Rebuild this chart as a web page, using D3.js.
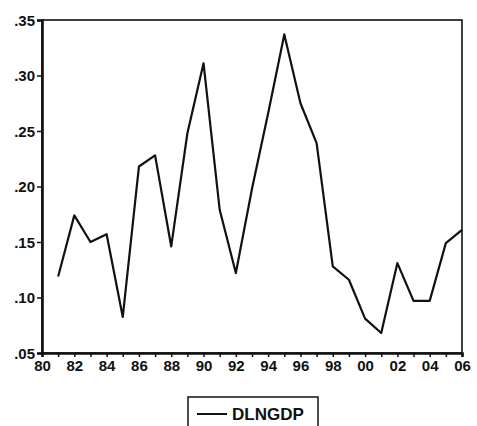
<!DOCTYPE html>
<html>
<head>
<meta charset="utf-8">
<script src="https://cdn.jsdelivr.net/npm/d3@7"></script>
<style>
  body { margin: 0; background: #fff; }
  svg { display: block; }
  text { font-family: "Liberation Sans", Arial, sans-serif; font-weight: bold; fill: #111; }
</style>
</head>
<body>
<div id="chart"></div>
<script>
// DLNGDP, annual, 1981-2006
const years = d3.range(1981, 2007);
const dlngdp = [0.119, 0.174, 0.150, 0.157, 0.0825, 0.218, 0.228, 0.146, 0.248, 0.311,
                0.179, 0.122, 0.198, 0.266, 0.337, 0.275, 0.239, 0.128, 0.116, 0.081,
                0.068, 0.131, 0.097, 0.097, 0.149, 0.161];
const yTicks = [0.05, 0.10, 0.15, 0.20, 0.25, 0.30, 0.35];
const xLabelYears = d3.range(1980, 2007, 2);
const seriesName = "DLNGDP";

const width = 477, height = 426;
const margin = { top: 20, right: 15, bottom: 73, left: 42 };

const svg = d3.select("#chart").append("svg")
    .attr("width", width)
    .attr("height", height);

const x = d3.scaleLinear().domain([1980, 2006]).range([margin.left, width - margin.right]);
const y = d3.scaleLinear().domain([0.05, 0.35]).range([height - margin.bottom, margin.top]);

// frame
svg.append("rect")
    .attr("x", x(1980)).attr("y", y(0.35))
    .attr("width", x(2006) - x(1980)).attr("height", y(0.05) - y(0.35))
    .attr("fill", "none").attr("stroke", "#111").attr("stroke-width", 1.6);

// y axis
const yAxis = d3.axisLeft(y)
    .tickValues(yTicks)
    .tickSize(5)
    .tickPadding(2)
    .tickFormat((d) => d3.format(".2f")(d).replace(/^0/, ""));
const gy = svg.append("g").attr("transform", `translate(${margin.left},0)`).call(yAxis);
gy.select(".domain").attr("stroke", "#111").attr("stroke-width", 2.6);
gy.selectAll(".tick line").attr("stroke", "#111").attr("stroke-width", 1.5);
gy.selectAll("text").style("font-size", "15px").attr("dy", "0.35em");

// x axis: ticks every year, labels every second year
const xAxis = d3.axisBottom(x)
    .tickValues(d3.range(1980, 2007))
    .tickSize(4)
    .tickPadding(3)
    .tickFormat((d) => (xLabelYears.includes(d) ? String(d).slice(2) : ""));
const gx = svg.append("g").attr("transform", `translate(0,${height - margin.bottom})`).call(xAxis);
gx.select(".domain").attr("stroke", "#111").attr("stroke-width", 2.6);
gx.selectAll(".tick line").attr("stroke", "#111").attr("stroke-width", 1.5);
gx.selectAll("text").style("font-size", "15px");

// series line
const line = d3.line()
    .x((d, i) => x(years[i]))
    .y((d) => y(d));

svg.append("path")
    .datum(dlngdp)
    .attr("fill", "none")
    .attr("stroke", "#111")
    .attr("stroke-width", 2.2)
    .attr("stroke-linejoin", "round")
    .attr("d", line);

// legend
const legend = svg.append("g").attr("transform", "translate(188,397)");
legend.append("rect")
    .attr("width", 130).attr("height", 34)
    .attr("fill", "#fff").attr("stroke", "#111").attr("stroke-width", 1.5);
legend.append("line")
    .attr("x1", 9).attr("x2", 39).attr("y1", 17).attr("y2", 17)
    .attr("stroke", "#111").attr("stroke-width", 2);
legend.append("text")
    .attr("x", 44).attr("y", 23)
    .style("font-size", "17px")
    .text(seriesName);
</script>
</body>
</html>
